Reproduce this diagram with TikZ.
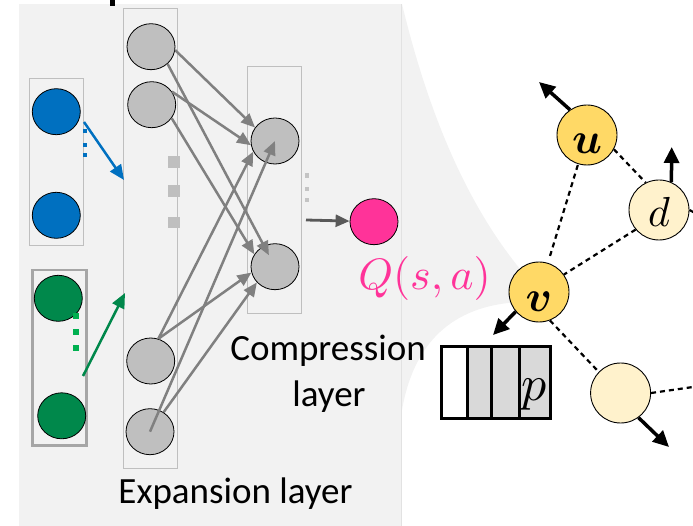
\documentclass[tikz,border=0pt]{standalone}
\usepackage[no-math]{fontspec}
\setmainfont{Carlito}
\usetikzlibrary{arrows.meta,calc,shapes.geometric}
\definecolor{bgc}{HTML}{F2F2F2}
\definecolor{bgline}{HTML}{E2E2E2}
\definecolor{boxc}{HTML}{BFBFBF}
\definecolor{gboxc}{HTML}{A6A6A6}
\definecolor{neur}{HTML}{BFBFBF}
\definecolor{arrc}{HTML}{808080}
\definecolor{cblue}{HTML}{0070C0}
\definecolor{cgreen}{HTML}{00884B}
\definecolor{cgreenl}{HTML}{00B050}
\definecolor{cpink}{HTML}{FF3399}
\definecolor{gold}{HTML}{FFD966}
\definecolor{cream}{HTML}{FFF2CC}
\definecolor{regc}{HTML}{D9D9D9}
\definecolor{outc}{HTML}{595959}
\definecolor{dotc}{HTML}{C4C4C4}
\begin{document}
\begin{tikzpicture}[x=1pt,y=-1pt,
  neuron/.style={ellipse,draw=black,line width=0.8pt,inner sep=0pt,minimum width=48pt,minimum height=46pt},
  layerbox/.style={rectangle,draw=boxc,line width=1pt,inner sep=0pt},
  conn/.style={draw=arrc,line width=2.5pt,-{Triangle[length=14pt,width=12pt]}},
  tnode/.style={circle,draw=black,line width=0.9pt,inner sep=0pt,minimum size=60pt},
  bigarrow/.style={line width=3.5pt,-{Triangle[length=16pt,width=15pt]}},
  dashline/.style={dash pattern=on 5pt off 4pt,line width=2.2pt},
  lbl/.style={font=\fontsize{37}{46}\selectfont,inner sep=0pt},
  regcell/.style={rectangle,draw=black,line width=3pt,inner sep=0pt,minimum height=71.6pt}
]
\useasboundingbox (0,0) rectangle (693,526);
% background panel and callout
\fill[bgc] (19,4) rectangle (402,526);
\fill[bgc] (402,4) .. controls (430,120) and (470,210) .. (525,275)
  -- (520,302) .. controls (460,305) and (415,335) .. (402,410) -- cycle;
\draw[bgline,line width=1pt] (401,4) -- (401,526);
\fill[black] (109.5,0) rectangle (115,6.5);

% layer boxes
\node[layerbox,minimum width=54pt,minimum height=166.3pt] (Bbox) at (56.3,161.9) {};
\node[layerbox,draw=gboxc,line width=2.5pt,minimum width=54pt,minimum height=175.7pt] (Gbox) at (59.7,357.8) {};
\node[layerbox,minimum width=54.3pt,minimum height=460pt] (Ebox) at (150.2,238.3) {};
\node[layerbox,minimum width=54pt,minimum height=247.3pt] (Cbox) at (274.7,189.7) {};

% input neurons
\node[neuron,fill=cblue] (B1) at (56.3,111.7) {};
\node[neuron,fill=cblue] (B2) at (56.3,215.3) {};
\node[neuron,fill=cgreen] (G1) at (58.3,298.3) {};
\node[neuron,fill=cgreen] (G2) at (61.7,415.8) {};
% expansion neurons
\node[neuron,fill=neur] (E1) at (151,46.7) {};
\node[neuron,fill=neur] (E2) at (151.7,104.7) {};
\node[neuron,fill=neur] (E3) at (150.7,361) {};
\node[neuron,fill=neur] (E4) at (150,431.7) {};
% compression neurons
\node[neuron,fill=neur] (C1) at (275,141) {};
\node[neuron,fill=neur] (C2) at (275,266.7) {};
% output
\node[neuron,fill=cpink] (P) at (374,221.7) {};

% dots
\fill[cblue] (83,129) rectangle (87,133);
\fill[cblue] (83,143) rectangle (87,147);
\fill[cblue] (83,153) rectangle (87,157);
\fill[cgreenl] (73,312.7) rectangle (79.3,318.7);
\fill[cgreenl] (73,328.7) rectangle (79.3,334.7);
\fill[cgreenl] (73,345) rectangle (79.3,351);
\fill[neur] (168.3,156) rectangle (180,167.7);
\fill[neur] (168.3,185) rectangle (180,196.7);
\fill[neur] (168.3,216.7) rectangle (180,228.4);
\fill[dotc] (305,173.5) rectangle (309.3,177.7);
\fill[dotc] (305,186.7) rectangle (309.3,191);
\fill[dotc] (305,197.7) rectangle (309.3,202);

% input arrows
\coordinate (bs) at (84,122);
\coordinate (be) at (124,180);
\coordinate (gs) at (83,376);
\coordinate (ge) at (125,293);
\draw[cblue,line width=2.5pt,-{Triangle[length=15pt,width=13pt]}] (bs) -- (be);
\draw[cgreen,line width=2.5pt,-{Triangle[length=15pt,width=13pt]}] (gs) -- (ge);

% expansion -> compression
\draw[conn] (E1.-8) -- (C1.146);
\draw[conn,shorten >=13pt] (E1.-46) -- (C2.center);
\draw[conn] (E2.33) -- (C1.190);
\draw[conn] (E2.-34) -- (C2.149);
\draw[conn] (E3.71) -- (C1.206);
\draw[conn] (E3.71) -- (C2.194);
\draw[conn] (E4.center) -- (C1.center);
\draw[conn] (E4.55) -- (C2.221);

% output arrow
\coordinate (os) at (306,220);
\draw[outc,line width=2.8pt,-{Triangle[length=14pt,width=12pt]}] (os) -- (P);

% texts
\node[lbl,anchor=base] (ExpT) at (235.5,503) {Expansion layer};
\node[lbl,anchor=base] (CompT1) at (328,360) {Compression};
\node[lbl,anchor=base] (CompT2) at (329,406.5) {layer};
\node[anchor=base,inner sep=0pt,text=cpink] (Qlbl) at (424.5,290) {\scalebox{4.4}{$Q(s,a)$}};

% right graph
\node[tnode,fill=gold,text height=38pt,text depth=0pt] (u) at (587,135) {\scalebox{4.4}{\boldmath$u$}};
\node[tnode,fill=cream,text height=33pt,text depth=0pt] (d) at (659,210) {\scalebox{4.2}{$d$}};
\node[tnode,fill=gold,text height=39pt,text depth=0pt] (v) at (539,292) {\scalebox{4.4}{\boldmath$v$}};
\node[tnode,fill=cream] (w) at (620.6,393) {};

\coordinate (ut) at (539,82);
\coordinate (dt) at (671.7,147);
\coordinate (vt) at (493,335);
\coordinate (wt) at (669,447);
\coordinate (wr) at (693,387);
\coordinate (dr) at (695,213);

\draw[dashline,shorten <=1pt,shorten >=5pt] (u) -- (v);
\draw[dashline] (u.-28) -- (d.116);
\draw[dashline] (d.220) -- (v.35);
\draw[dashline] (v.291) -- (w.136);
\draw[dashline] (w.east) -- (wr);
\draw[dashline] (d.east) -- (dr);

\draw[bigarrow] (u.124) -- (ut);
\draw[bigarrow] (d.66) -- (dt);
\draw[bigarrow] (v.220) -- (vt);
\draw[bigarrow] (w.306) -- (wt);

% register
\node[regcell,fill=white,minimum width=25.6pt] (r1) at (454.5,382.5) {};
\node[regcell,fill=regc,minimum width=24.4pt] (r2) at (479.5,382.5) {};
\node[regcell,fill=regc,minimum width=27.6pt] (r3) at (505.5,382.5) {};
\node[regcell,fill=regc,minimum width=30.7pt] (r4) at (534.65,382.5) {};
\node[anchor=base,inner sep=0pt] (ptext) at (534.5,400) {\scalebox{5}{$p$}};
\end{tikzpicture}
\end{document}
